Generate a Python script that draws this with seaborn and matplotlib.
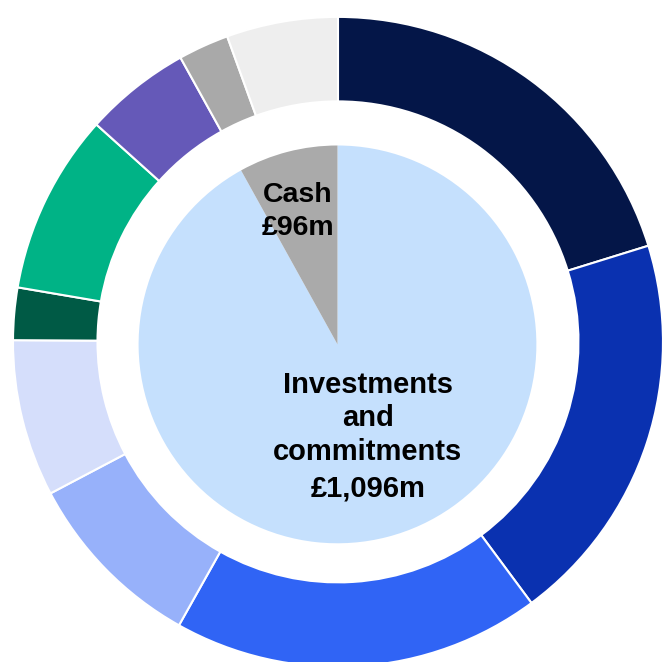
import matplotlib
matplotlib.use("Agg")
import matplotlib.pyplot as plt
import seaborn as sns

# Outer ring: portfolio split (£m); the last two segments make up cash
ring_values = [241, 234, 218, 109, 93, 31, 107, 63, 30, 66]
ring_colors = ["#041648", "#0a31b0", "#3064f5", "#97b1fa", "#d5defb",
               "#005a45", "#00b386", "#6559b8", "#a9a9a9", "#eeeeee"]

# Inner pie: investments and commitments vs cash (£m)
inner_labels = ["Investments\nand\ncommitments", "Cash"]
inner_values = [1096, 96]
inner_colors = ["#c5e0fd", "#aaaaaa"]

sns.set_theme(style="white")
plt.rcParams["font.family"] = ["Liberation Sans", "DejaVu Sans"]

fig = plt.figure(figsize=(6.62, 6.62), dpi=100)
ax = fig.add_axes([0, 0, 1, 1])


def py(p):
    return (342 - p) / 325.0


def px(p):
    return (p - 338) / 325.0


ax.pie(ring_values, colors=ring_colors, radius=1.0, startangle=90,
       counterclock=False,
       wedgeprops=dict(width=0.26, edgecolor="white", linewidth=1.5))

ax.pie(inner_values, colors=inner_colors, radius=0.612, startangle=90,
       counterclock=False, center=(px(337.5), py(344.5)),
       wedgeprops=dict(linewidth=0))

ax.set_aspect("equal")
ax.set_xlim(-1.04, 0.997)
ax.set_ylim(-0.985, 1.052)
ax.axis("off")

# Cash label
cash_lines = [inner_labels[1], f"£{inner_values[1]}m"]
for line, base in zip(cash_lines, [201.7, 235.5]):
    ax.text(px(298), py(base), line, ha="center", va="baseline",
            fontsize=20.5, fontweight="bold", color="black")

# Investments label
inv_lines = inner_labels[0].split("\n") + [f"£{inner_values[0]:,}m"]
for line, base in zip(inv_lines, [393.5, 426.5, 460.5, 496.5]):
    ax.text(px(368), py(base), line, ha="center", va="baseline",
            fontsize=21, fontweight="bold", color="black")

fig.savefig("out.png", dpi=100, facecolor="white")
